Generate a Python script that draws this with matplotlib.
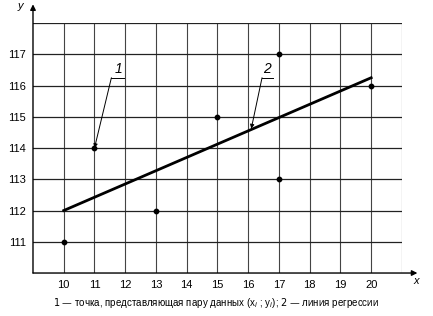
import numpy as np
import matplotlib.pyplot as plt

# точки данных (x_i ; y_i)
x_pts = [10, 11, 13, 15, 17, 17, 20]
y_pts = [111, 114, 112, 115, 117, 113, 116]

# линия регрессии (концы)
line_x = [10, 20]
line_y = [112.0, 116.25]

x_ticks = list(range(10, 21))
y_ticks = list(range(111, 118))

plt.rcParams['font.family'] = ['Liberation Sans', 'DejaVu Sans']

fig = plt.figure(figsize=(4.33, 3.16), dpi=100)
ax = fig.add_axes([0.0762, 0.136, 0.852, 0.791])

# сетка
for xv in range(10, 22):
    ax.axvline(xv, color='#444444', lw=0.8, zorder=1)
for yv in range(111, 119):
    ax.axhline(yv, color='#222222', lw=0.9, zorder=1)

ax.plot(line_x, line_y, color='black', lw=2.0, zorder=3)
ax.scatter(x_pts, y_pts, s=10, color='black', zorder=4)

ax.set_xlim(9, 21)
ax.set_ylim(110, 118)
ax.set_xticks(x_ticks)
ax.set_yticks(y_ticks)
ax.tick_params(length=0, labelsize=8, pad=5)
for s in ['top', 'right', 'left', 'bottom']:
    ax.spines[s].set_visible(False)

# оси со стрелками
ax.annotate('', xy=(0, 1.075), xytext=(0, 0), xycoords='axes fraction',
            arrowprops=dict(arrowstyle='-|>', color='black', lw=1.0,
                            mutation_scale=8, shrinkA=0, shrinkB=0))
ax.annotate('', xy=(1.042, 0), xytext=(0, 0), xycoords='axes fraction',
            arrowprops=dict(arrowstyle='-|>', color='black', lw=1.0,
                            mutation_scale=8, shrinkA=0, shrinkB=0))
ax.text(-0.035, 1.07, 'y', transform=ax.transAxes, style='italic',
        fontsize=8, ha='center', va='center')
ax.text(1.04, -0.03, 'x', transform=ax.transAxes, style='italic',
        fontsize=8, ha='center', va='center')

# выноски
ax.annotate('', xy=(11, 114), xytext=(11.55, 116.25),
            arrowprops=dict(arrowstyle='-|>', color='black', lw=0.7,
                            mutation_scale=6, shrinkA=0, shrinkB=0))
ax.plot([11.55, 11.95], [116.25, 116.25], color='black', lw=0.7, clip_on=False)
ax.text(11.78, 116.3, '1', style='italic', fontsize=10, ha='center', va='bottom')

ax.annotate('', xy=(16.1, 114.62), xytext=(16.45, 116.25),
            arrowprops=dict(arrowstyle='-|>', color='black', lw=0.7,
                            mutation_scale=6, shrinkA=0, shrinkB=0))
ax.plot([16.45, 16.8], [116.25, 116.25], color='black', lw=0.7, clip_on=False)
ax.text(16.62, 116.3, '2', style='italic', fontsize=10, ha='center', va='bottom')

fig.text(0.5, 0.04,
         r'$\mathit{1}$ — точка, представляющая пару данных (x$_i$ ; y$_i$); $\mathit{2}$ — линия регрессии',
         ha='center', va='center', fontsize=7)

fig.savefig('out.png', dpi=100, facecolor='white')
